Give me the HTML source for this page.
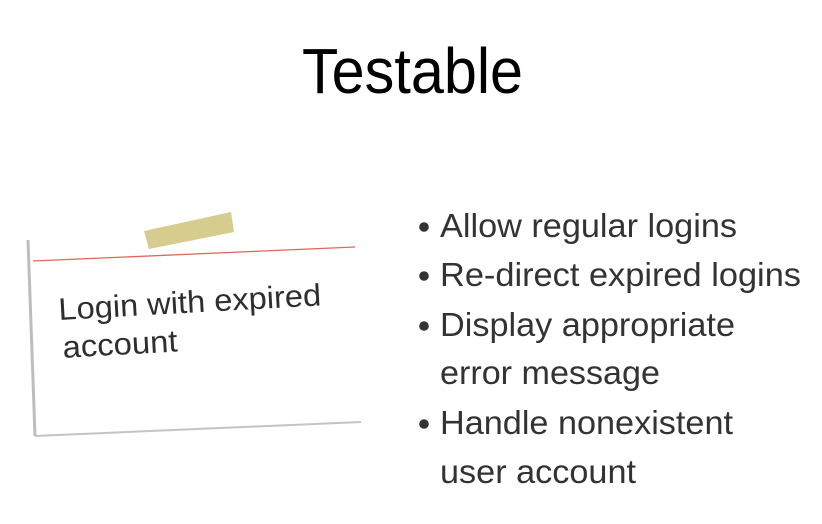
<!DOCTYPE html>
<html><head><meta charset="utf-8"><style>
html,body{margin:0;padding:0;background:#fff;}
svg{display:block;}
</style></head><body>
<svg width="822" height="524" viewBox="0 0 822 524" xmlns="http://www.w3.org/2000/svg">
<rect width="822" height="524" fill="#fff"/>
<text x="302" y="93" font-family="Liberation Sans, sans-serif" font-size="64" fill="#000" textLength="221" lengthAdjust="spacingAndGlyphs">Testable</text>
<!-- card -->
<polygon points="28,240 35,436 361,422 355,247" fill="#fff"/>
<line x1="28" y1="240" x2="35" y2="436" stroke="#bdbdbd" stroke-width="3"/>
<line x1="35" y1="436" x2="361" y2="422" stroke="#c4c4c4" stroke-width="2"/>
<line x1="33" y1="261" x2="355" y2="247" stroke="#e0675c" stroke-width="1.3"/>
<polygon points="144,231 231,212 234,232 149,249" fill="#d6cc8e"/>
<g transform="rotate(-3.2 59 320)" font-family="Liberation Sans, sans-serif" font-size="31" fill="#2e2e2e">
<text x="59" y="320" textLength="263" lengthAdjust="spacingAndGlyphs">Login with expired</text>
<text x="61" y="358" textLength="115" lengthAdjust="spacingAndGlyphs">account</text>
</g>
<!-- bullets -->
<g font-family="Liberation Sans, sans-serif" font-size="33" fill="#333">
<circle cx="424" cy="227" r="4.8"/>
<text x="440" y="237" textLength="297" lengthAdjust="spacingAndGlyphs">Allow regular logins</text>
<circle cx="424" cy="276" r="4.8"/>
<text x="440" y="286" textLength="361" lengthAdjust="spacingAndGlyphs">Re-direct expired logins</text>
<circle cx="424" cy="326" r="4.8"/>
<text x="440" y="336" textLength="295" lengthAdjust="spacingAndGlyphs">Display appropriate</text>
<text x="440" y="384" textLength="220" lengthAdjust="spacingAndGlyphs">error message</text>
<circle cx="424" cy="424" r="4.8"/>
<text x="440" y="434" textLength="293" lengthAdjust="spacingAndGlyphs">Handle nonexistent</text>
<text x="440" y="483" textLength="196" lengthAdjust="spacingAndGlyphs">user account</text>
</g>
</svg>
</body></html>
